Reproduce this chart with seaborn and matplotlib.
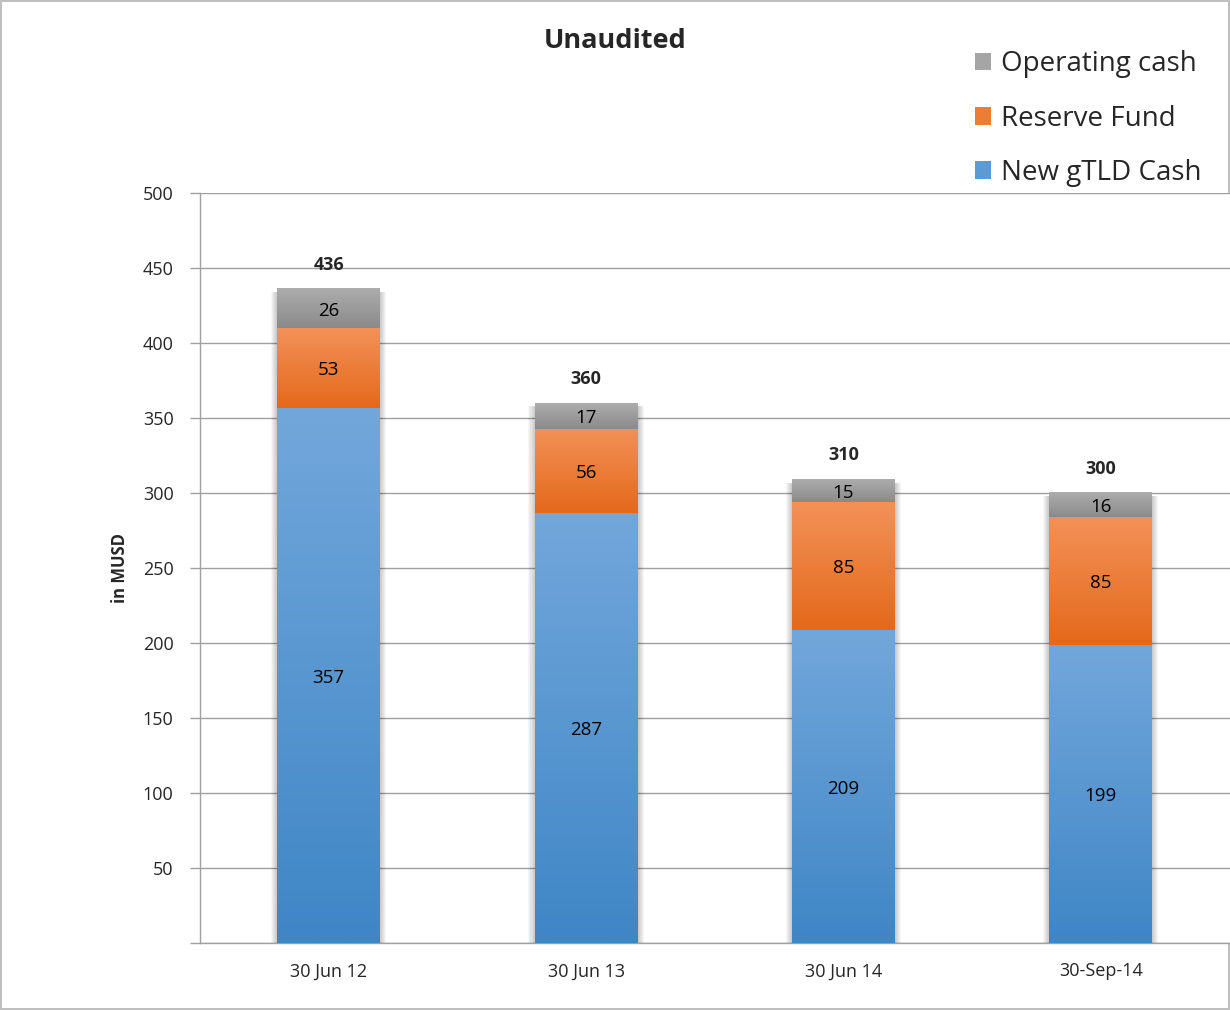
import numpy as np
import pandas as pd
import seaborn as sns
import matplotlib.pyplot as plt
from matplotlib.patches import Rectangle, Patch
from matplotlib.colors import LinearSegmentedColormap

# data (MUSD)
dates = ['30 Jun 12', '30 Jun 13', '30 Jun 14', '30-Sep-14']
new_gtld = [357, 287, 209, 199]
reserve = [53, 56, 85, 85]
operating = [26, 17, 15, 16]
totals = [436, 360, 310, 300]

series_names = ['New gTLD Cash', 'Reserve Fund', 'Operating cash']
# (top, bottom) gradient colours for each series
grad_colors = {
    'New gTLD Cash': ('#72a7db', '#3f86c6'),
    'Reserve Fund': ('#f39158', '#e4691a'),
    'Operating cash': ('#adadad', '#8a8a8a'),
}
legend_colors = {'New gTLD Cash': '#5b9bd5', 'Reserve Fund': '#ed7d31', 'Operating cash': '#a5a5a5'}

df = pd.DataFrame({'date': dates, 'New gTLD Cash': new_gtld,
                   'Reserve Fund': reserve, 'Operating cash': operating})
df['cum1'] = df['New gTLD Cash']
df['cum2'] = df['cum1'] + df['Reserve Fund']
df['cum3'] = df['cum2'] + df['Operating cash']

sns.set_theme(style='white')
plt.rcParams['font.family'] = ['Open Sans', 'DejaVu Sans']

fig = plt.figure(figsize=(12.3, 10.1), dpi=100)
ax = fig.add_axes([0.1626, 0.0663, 0.837, 0.7426])

bar_w = 0.40
# seaborn stacked bars: draw cumulative heights from the tallest down
for col, name in zip(['cum3', 'cum2', 'cum1'], series_names[::-1]):
    sns.barplot(data=df, x='date', y=col, color=grad_colors[name][1],
                width=bar_w, saturation=1, ax=ax, zorder=3, edgecolor='none')

# soft shadow at the sides of each bar
for i, tot in enumerate(df['cum3']):
    for k in range(6):
        pad = 0.004 * (k + 1)
        ax.add_patch(Rectangle((i - bar_w / 2 - pad, 0), bar_w + 2 * pad, tot - 2,
                               facecolor='black', alpha=0.035, edgecolor='none', zorder=2))

# gradient fill for each visible segment
lows = {'New gTLD Cash': np.zeros(4), 'Reserve Fund': df['cum1'].values, 'Operating cash': df['cum2'].values}
highs = {'New gTLD Cash': df['cum1'].values, 'Reserve Fund': df['cum2'].values, 'Operating cash': df['cum3'].values}
grad = np.linspace(1, 0, 256).reshape(-1, 1)
for name in series_names:
    cmap = LinearSegmentedColormap.from_list(name, [grad_colors[name][1], grad_colors[name][0]])
    for i in range(len(dates)):
        ax.imshow(grad, cmap=cmap, aspect='auto', zorder=4, vmin=0, vmax=1,
                  extent=(i - bar_w / 2, i + bar_w / 2, lows[name][i], highs[name][i]))

# segment labels
for name in series_names:
    vals = df[name].values
    mids = (lows[name] + highs[name]) / 2
    for i, (v, m) in enumerate(zip(vals, mids)):
        ax.text(i, m - 1.5, str(v), ha='center', va='center', fontsize=13.5, color='black', zorder=6)

# totals on top
for i, t in enumerate(totals):
    ax.annotate(str(t), (i, df['cum3'][i]), xytext=(0, 11), textcoords='offset points',
                ha='center', va='bottom', fontsize=13, fontweight='bold', zorder=6)

ax.set_xlim(-0.5, 3.5)
ax.set_ylim(0, 500)
yt = np.arange(0, 501, 50)
ax.set_yticks(yt)
ax.set_yticklabels([''] + [str(v) for v in yt[1:]], fontsize=13)
ax.set_xticks(range(4))
ax.set_xticklabels(dates, fontsize=13)
ax.set_xticks(np.arange(-0.5, 4, 1), minor=True)
ax.tick_params(axis='x', which='major', length=0, pad=14)
ax.tick_params(axis='x', which='minor', length=7, width=1, color='#a0a0a0', direction='out')
ax.tick_params(axis='y', length=7, width=1, color='#a0a0a0', direction='out', left=True, pad=12)
ax.set_xlabel('')
ax.set_ylabel('in MUSD', fontsize=12, fontweight='bold', labelpad=10)
ax.yaxis.grid(True, color='#a0a0a0', linewidth=1, zorder=0)
ax.set_axisbelow(True)
for s in ['top', 'right']:
    ax.spines[s].set_visible(False)
for s in ['left', 'bottom']:
    ax.spines[s].set_color('#a0a0a0')
    ax.spines[s].set_linewidth(1)

fig.text(0.5, 1 - 41 / 1010, 'Unaudited', ha='center', va='center', fontsize=19.5, fontweight='bold')

handles = [Patch(facecolor=legend_colors[n], edgecolor='none') for n in series_names[::-1]]
fig.legend(handles, series_names[::-1], loc='upper left', bbox_to_anchor=(0.772, 0.975),
           frameon=False, fontsize=20, handlelength=0.6, handleheight=0.6,
           handletextpad=0.35, labelspacing=0.95)

fig.patch.set_edgecolor('#bfbfbf')
fig.patch.set_linewidth(1.5)
fig.savefig('out.png', dpi=100, edgecolor=fig.get_edgecolor())
